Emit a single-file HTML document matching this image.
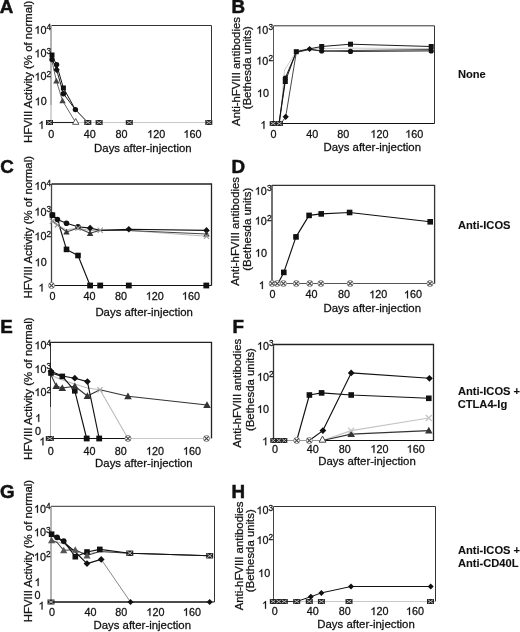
<!DOCTYPE html>
<html><head><meta charset="utf-8"><style>
html,body{margin:0;padding:0;background:#fff;overflow:hidden;}
svg{display:block;filter:grayscale(1) blur(0.5px);}
text{fill:#111;stroke:#111;stroke-width:0.26px;}
text[font-weight=bold]{stroke-width:0.1px;}
text.pl{stroke-width:0.5px;}
</style></head><body>
<svg width="520" height="632" viewBox="0 0 520 632" font-family='"Liberation Sans", sans-serif'>
<rect width="520" height="632" fill="#fff"/>
<text x="-0.2" y="12.9" font-size="18.8" text-anchor="start" font-weight="bold" class="pl">A</text>
<text x="231.6" y="13.1" font-size="18.8" text-anchor="start" font-weight="bold" class="pl">B</text>
<text x="0.3" y="172.8" font-size="18.8" text-anchor="start" font-weight="bold" class="pl">C</text>
<text x="231.6" y="172.8" font-size="18.8" text-anchor="start" font-weight="bold" class="pl">D</text>
<text x="0.3" y="332.5" font-size="18.8" text-anchor="start" font-weight="bold" class="pl">E</text>
<text x="232.5" y="332.5" font-size="18.8" text-anchor="start" font-weight="bold" class="pl">F</text>
<text x="0.1" y="497.5" font-size="18.8" text-anchor="start" font-weight="bold" class="pl">G</text>
<text x="231.6" y="497.5" font-size="18.8" text-anchor="start" font-weight="bold" class="pl">H</text>
<text x="457.9" y="78.4" font-size="11.15" text-anchor="start" font-weight="bold" >None</text>
<text x="457.9" y="228.7" font-size="11.15" text-anchor="start" font-weight="bold" >Anti-ICOS</text>
<text x="457.9" y="394.9" font-size="11.15" text-anchor="start" font-weight="bold" >Anti-ICOS +</text>
<text x="457.7" y="407.6" font-size="11.15" text-anchor="start" font-weight="bold" >CTLA4-Ig</text>
<text x="457.9" y="553.8" font-size="11.15" text-anchor="start" font-weight="bold" >Anti-ICOS +</text>
<text x="457.9" y="566.7" font-size="11.15" text-anchor="start" font-weight="bold" >Anti-CD40L</text>
<text transform="translate(31.5 71.8) rotate(-90)" font-size="11.4" text-anchor="middle" x="0" y="0">HFVIII Activity (% of normal)</text>
<text transform="translate(31.8 227.2) rotate(-90)" font-size="11.4" text-anchor="middle" x="0" y="0">HFVIII Activity (% of normal)</text>
<text transform="translate(31.5 388.7) rotate(-90)" font-size="11.4" text-anchor="middle" x="0" y="0">HFVIII Activity (% of normal)</text>
<text transform="translate(31.7 551.1) rotate(-90)" font-size="11.4" text-anchor="middle" x="0" y="0">HFVIII Activity (% of normal)</text>
<text transform="translate(240.2 71.5) rotate(-90)" font-size="11.4" text-anchor="middle" x="0" y="0">Anti-hFVIII antibodies</text>
<text transform="translate(251.3 67.8) rotate(-90)" font-size="11.4" text-anchor="middle" x="0" y="0">(Bethesda units)</text>
<text transform="translate(238.5 231.4) rotate(-90)" font-size="11.4" text-anchor="middle" x="0" y="0">Anti-hFVIII antibodies</text>
<text transform="translate(251.2 229.2) rotate(-90)" font-size="11.4" text-anchor="middle" x="0" y="0">(Bethesda units)</text>
<text transform="translate(241.1 393.2) rotate(-90)" font-size="11.4" text-anchor="middle" x="0" y="0">Anti-hFVIII antibodies</text>
<text transform="translate(253.8 389.6) rotate(-90)" font-size="11.4" text-anchor="middle" x="0" y="0">(Bethesda units)</text>
<text transform="translate(243.2 555.9) rotate(-90)" font-size="11.4" text-anchor="middle" x="0" y="0">Anti-hFVIII antibodies</text>
<text transform="translate(254.0 550.7) rotate(-90)" font-size="11.4" text-anchor="middle" x="0" y="0">(Bethesda units)</text>
<text x="94.1" y="151.9" font-size="11.4" text-anchor="start" font-weight="normal" >Days after-injection</text>
<text x="323.5" y="151.4" font-size="11.4" text-anchor="start" font-weight="normal" >Days after-injection</text>
<text x="95.4" y="315.8" font-size="11.4" text-anchor="start" font-weight="normal" >Days after-injection</text>
<text x="323.5" y="311.9" font-size="11.4" text-anchor="start" font-weight="normal" >Days after-injection</text>
<text x="95.1" y="467.2" font-size="11.4" text-anchor="start" font-weight="normal" >Days after-injection</text>
<text x="318.3" y="465.0" font-size="11.4" text-anchor="start" font-weight="normal" >Days after-injection</text>
<text x="93.5" y="629.3" font-size="11.4" text-anchor="start" font-weight="normal" >Days after-injection</text>
<text x="317.3" y="627.7" font-size="11.4" text-anchor="start" font-weight="normal" >Days after-injection</text>
<path d="M51.5 25.5H211.5V122.5" fill="none" stroke="#333" stroke-width="1"/>
<path d="M51.5 25.5V122.5" fill="none" stroke="none" stroke-width="1"/>
<path d="M51.5 122.5H211.5" fill="none" stroke="#c8c8c8" stroke-width="1"/>
<path d="M51.0 25.5 L51.0 105.0" fill="none" stroke="#666" stroke-width="1" stroke-linejoin="round"/>
<path d="M51.0 105.0 L51.0 122.5" fill="none" stroke="#aaa" stroke-width="1" stroke-linejoin="round"/>
<path d="M273.5 25.8H434.5V123.5" fill="none" stroke="#333" stroke-width="1"/>
<path d="M273.5 25.8V123.5" fill="none" stroke="#555" stroke-width="1"/>
<path d="M273.5 123.5H434.5" fill="none" stroke="#111" stroke-width="1"/>
<path d="M51.5 184.0H211.5V285.5" fill="none" stroke="#222" stroke-width="1.3"/>
<path d="M51.5 184.0V285.5" fill="none" stroke="#444" stroke-width="1.3"/>
<path d="M51.5 285.5H211.5" fill="none" stroke="#111" stroke-width="1"/>
<path d="M272 185.3H434.6V283.5" fill="none" stroke="#333" stroke-width="1.3"/>
<path d="M272 283.5H434.6" fill="none" stroke="#555" stroke-width="1"/>
<path d="M272.0 185.0 L272.0 283.5" fill="none" stroke="#444" stroke-width="1.5" stroke-linejoin="round"/>
<path d="M51 342.4H211.5V438.5" fill="none" stroke="#222" stroke-width="1.3"/>
<path d="M51 342.4V438.5" fill="none" stroke="none" stroke-width="1.3"/>
<path d="M51 438.5H211.5" fill="none" stroke="#c8c8c8" stroke-width="1"/>
<path d="M50.5 342.0 L50.5 407.0" fill="none" stroke="#333" stroke-width="1" stroke-linejoin="round"/>
<path d="M50.5 407.0 L50.5 438.5" fill="none" stroke="#aaa" stroke-width="1" stroke-linejoin="round"/>
<path d="M273.5 344.5H433.5V440.5" fill="none" stroke="#222" stroke-width="1.3"/>
<path d="M273.5 344.5V440.5" fill="none" stroke="#333" stroke-width="1.3"/>
<path d="M273.5 440.5H433.5" fill="none" stroke="none" stroke-width="1"/>
<path d="M51 506.3H214.5V602" fill="none" stroke="#333" stroke-width="1"/>
<path d="M51 506.3V602" fill="none" stroke="#666" stroke-width="1"/>
<path d="M51 602H214.5" fill="none" stroke="#111" stroke-width="1"/>
<path d="M273.5 506.5H435.5V601.5" fill="none" stroke="#333" stroke-width="1"/>
<path d="M273.5 506.5V601.5" fill="none" stroke="#444" stroke-width="1"/>
<path d="M273.5 601.5H435.5" fill="none" stroke="#c8c8c8" stroke-width="1"/>
<path d="M38.52 33.77L37.57 33.77L37.57 27.72Q37.23 28.05 36.67 28.37Q36.11 28.70 35.66 28.86L35.66 27.95Q36.46 27.57 37.06 27.04Q37.65 26.51 37.90 26.01L38.52 26.01Z" fill="#111" stroke="#111" stroke-width="0.26"/>
<text x="40.50" y="33.77" font-size="10.8">0</text>
<text x="46.6" y="30.2" font-size="8.3" text-anchor="start" font-weight="normal" >4</text>
<path d="M38.52 57.37L37.57 57.37L37.57 51.32Q37.23 51.65 36.67 51.97Q36.11 52.30 35.66 52.46L35.66 51.55Q36.46 51.17 37.06 50.64Q37.65 50.11 37.90 49.61L38.52 49.61Z" fill="#111" stroke="#111" stroke-width="0.26"/>
<text x="40.50" y="57.37" font-size="10.8">0</text>
<text x="46.6" y="53.8" font-size="8.3" text-anchor="start" font-weight="normal" >3</text>
<path d="M38.52 80.47L37.57 80.47L37.57 74.42Q37.23 74.75 36.67 75.07Q36.11 75.40 35.66 75.56L35.66 74.65Q36.46 74.27 37.06 73.74Q37.65 73.21 37.90 72.71L38.52 72.71Z" fill="#111" stroke="#111" stroke-width="0.26"/>
<text x="40.50" y="80.47" font-size="10.8">0</text>
<text x="46.6" y="76.9" font-size="8.3" text-anchor="start" font-weight="normal" >2</text>
<path d="M38.77 105.27L37.82 105.27L37.82 99.22Q37.48 99.55 36.92 99.87Q36.36 100.20 35.91 100.36L35.91 99.45Q36.71 99.07 37.31 98.54Q37.90 98.01 38.15 97.51L38.77 97.51Z" fill="#111" stroke="#111" stroke-width="0.26"/>
<text x="40.75" y="105.27" font-size="10.8">0</text>
<path d="M42.47 128.87L41.52 128.87L41.52 122.82Q41.18 123.15 40.62 123.47Q40.06 123.80 39.62 123.96L39.62 123.05Q40.41 122.67 41.01 122.14Q41.61 121.61 41.85 121.11L42.47 121.11Z" fill="#111" stroke="#111" stroke-width="0.26"/>
<path d="M38.52 189.77L37.57 189.77L37.57 183.72Q37.23 184.05 36.67 184.37Q36.11 184.70 35.66 184.86L35.66 183.95Q36.46 183.57 37.06 183.04Q37.65 182.51 37.90 182.01L38.52 182.01Z" fill="#111" stroke="#111" stroke-width="0.26"/>
<text x="40.50" y="189.77" font-size="10.8">0</text>
<text x="46.6" y="186.2" font-size="8.3" text-anchor="start" font-weight="normal" >4</text>
<path d="M38.52 215.57L37.57 215.57L37.57 209.52Q37.23 209.85 36.67 210.17Q36.11 210.50 35.66 210.66L35.66 209.75Q36.46 209.37 37.06 208.84Q37.65 208.31 37.90 207.81L38.52 207.81Z" fill="#111" stroke="#111" stroke-width="0.26"/>
<text x="40.50" y="215.57" font-size="10.8">0</text>
<text x="46.6" y="212.0" font-size="8.3" text-anchor="start" font-weight="normal" >3</text>
<path d="M38.52 240.17L37.57 240.17L37.57 234.12Q37.23 234.45 36.67 234.77Q36.11 235.10 35.66 235.26L35.66 234.35Q36.46 233.97 37.06 233.44Q37.65 232.91 37.90 232.41L38.52 232.41Z" fill="#111" stroke="#111" stroke-width="0.26"/>
<text x="40.50" y="240.17" font-size="10.8">0</text>
<text x="46.6" y="236.6" font-size="8.3" text-anchor="start" font-weight="normal" >2</text>
<path d="M38.77 266.17L37.82 266.17L37.82 260.12Q37.48 260.45 36.92 260.77Q36.36 261.10 35.91 261.26L35.91 260.35Q36.71 259.97 37.31 259.44Q37.90 258.91 38.15 258.41L38.77 258.41Z" fill="#111" stroke="#111" stroke-width="0.26"/>
<text x="40.75" y="266.17" font-size="10.8">0</text>
<path d="M42.47 291.47L41.52 291.47L41.52 285.42Q41.18 285.75 40.62 286.07Q40.06 286.40 39.62 286.56L39.62 285.65Q40.41 285.27 41.01 284.74Q41.61 284.21 41.85 283.71L42.47 283.71Z" fill="#111" stroke="#111" stroke-width="0.26"/>
<path d="M38.52 349.17L37.57 349.17L37.57 343.12Q37.23 343.45 36.67 343.77Q36.11 344.10 35.66 344.26L35.66 343.35Q36.46 342.97 37.06 342.44Q37.65 341.91 37.90 341.41L38.52 341.41Z" fill="#111" stroke="#111" stroke-width="0.26"/>
<text x="40.50" y="349.17" font-size="10.8">0</text>
<text x="46.6" y="345.6" font-size="8.3" text-anchor="start" font-weight="normal" >4</text>
<path d="M38.52 372.97L37.57 372.97L37.57 366.92Q37.23 367.25 36.67 367.57Q36.11 367.90 35.66 368.06L35.66 367.15Q36.46 366.77 37.06 366.24Q37.65 365.71 37.90 365.21L38.52 365.21Z" fill="#111" stroke="#111" stroke-width="0.26"/>
<text x="40.50" y="372.97" font-size="10.8">0</text>
<text x="46.6" y="369.4" font-size="8.3" text-anchor="start" font-weight="normal" >3</text>
<path d="M38.52 396.07L37.57 396.07L37.57 390.02Q37.23 390.35 36.67 390.67Q36.11 391.00 35.66 391.16L35.66 390.25Q36.46 389.87 37.06 389.34Q37.65 388.81 37.90 388.31L38.52 388.31Z" fill="#111" stroke="#111" stroke-width="0.26"/>
<text x="40.50" y="396.07" font-size="10.8">0</text>
<text x="46.6" y="392.5" font-size="8.3" text-anchor="start" font-weight="normal" >2</text>
<path d="M39.22 421.87L38.27 421.87L38.27 415.82Q37.93 416.15 37.37 416.47Q36.81 416.80 36.37 416.96L36.37 416.05Q37.16 415.67 37.76 415.14Q38.36 414.61 38.60 414.11L39.22 414.11Z" fill="#111" stroke="#111" stroke-width="0.26"/>
<text x="38.0" y="435.3" font-size="10.8" text-anchor="middle" font-weight="normal" >0</text>
<path d="M43.42 445.37L42.47 445.37L42.47 439.32Q42.13 439.65 41.57 439.97Q41.01 440.30 40.57 440.46L40.57 439.55Q41.36 439.17 41.96 438.64Q42.56 438.11 42.80 437.61L43.42 437.61Z" fill="#111" stroke="#111" stroke-width="0.26"/>
<path d="M37.92 512.77L36.97 512.77L36.97 506.72Q36.63 507.05 36.07 507.37Q35.51 507.70 35.06 507.86L35.06 506.95Q35.86 506.57 36.46 506.04Q37.05 505.51 37.30 505.01L37.92 505.01Z" fill="#111" stroke="#111" stroke-width="0.26"/>
<text x="39.90" y="512.77" font-size="10.8">0</text>
<text x="46.0" y="509.2" font-size="8.3" text-anchor="start" font-weight="normal" >4</text>
<path d="M37.92 536.27L36.97 536.27L36.97 530.22Q36.63 530.55 36.07 530.87Q35.51 531.20 35.06 531.36L35.06 530.45Q35.86 530.07 36.46 529.54Q37.05 529.01 37.30 528.51L37.92 528.51Z" fill="#111" stroke="#111" stroke-width="0.26"/>
<text x="39.90" y="536.27" font-size="10.8">0</text>
<text x="46.0" y="532.7" font-size="8.3" text-anchor="start" font-weight="normal" >3</text>
<path d="M37.92 560.57L36.97 560.57L36.97 554.52Q36.63 554.85 36.07 555.17Q35.51 555.50 35.06 555.66L35.06 554.75Q35.86 554.37 36.46 553.84Q37.05 553.31 37.30 552.81L37.92 552.81Z" fill="#111" stroke="#111" stroke-width="0.26"/>
<text x="39.90" y="560.57" font-size="10.8">0</text>
<text x="46.0" y="557.0" font-size="8.3" text-anchor="start" font-weight="normal" >2</text>
<path d="M38.62 586.07L37.67 586.07L37.67 580.02Q37.33 580.35 36.77 580.67Q36.21 581.00 35.77 581.16L35.77 580.25Q36.56 579.87 37.16 579.34Q37.76 578.81 38.00 578.31L38.62 578.31Z" fill="#111" stroke="#111" stroke-width="0.26"/>
<text x="37.4" y="599.4" font-size="10.8" text-anchor="middle" font-weight="normal" >0</text>
<path d="M42.52 609.47L41.57 609.47L41.57 603.42Q41.23 603.75 40.67 604.07Q40.11 604.40 39.67 604.56L39.67 603.65Q40.46 603.27 41.06 602.74Q41.66 602.21 41.90 601.71L42.52 601.71Z" fill="#111" stroke="#111" stroke-width="0.26"/>
<path d="M260.27 33.77L259.32 33.77L259.32 27.72Q258.98 28.05 258.42 28.37Q257.86 28.70 257.41 28.86L257.41 27.95Q258.21 27.57 258.81 27.04Q259.40 26.51 259.65 26.01L260.27 26.01Z" fill="#111" stroke="#111" stroke-width="0.26"/>
<text x="262.25" y="33.77" font-size="10.8">0</text>
<text x="268.4" y="30.2" font-size="8.3" text-anchor="start" font-weight="normal" >3</text>
<path d="M260.27 64.52L259.32 64.52L259.32 58.47Q258.98 58.80 258.42 59.12Q257.86 59.45 257.41 59.61L257.41 58.70Q258.21 58.32 258.81 57.79Q259.40 57.26 259.65 56.76L260.27 56.76Z" fill="#111" stroke="#111" stroke-width="0.26"/>
<text x="262.25" y="64.52" font-size="10.8">0</text>
<text x="268.4" y="60.9" font-size="8.3" text-anchor="start" font-weight="normal" >2</text>
<path d="M261.02 97.07L260.07 97.07L260.07 91.02Q259.73 91.35 259.17 91.67Q258.61 92.00 258.16 92.16L258.16 91.25Q258.96 90.87 259.56 90.34Q260.15 89.81 260.40 89.31L261.02 89.31Z" fill="#111" stroke="#111" stroke-width="0.26"/>
<text x="263.00" y="97.07" font-size="10.8">0</text>
<path d="M264.42 128.77L263.47 128.77L263.47 122.72Q263.13 123.05 262.57 123.37Q262.01 123.70 261.57 123.86L261.57 122.95Q262.36 122.57 262.96 122.04Q263.56 121.51 263.80 121.01L264.42 121.01Z" fill="#111" stroke="#111" stroke-width="0.26"/>
<path d="M258.82 194.77L257.87 194.77L257.87 188.72Q257.53 189.05 256.97 189.37Q256.41 189.70 255.96 189.86L255.96 188.95Q256.76 188.57 257.36 188.04Q257.95 187.51 258.20 187.01L258.82 187.01Z" fill="#111" stroke="#111" stroke-width="0.26"/>
<text x="260.80" y="194.77" font-size="10.8">0</text>
<text x="266.9" y="191.2" font-size="8.3" text-anchor="start" font-weight="normal" >3</text>
<path d="M258.82 224.57L257.87 224.57L257.87 218.52Q257.53 218.85 256.97 219.17Q256.41 219.50 255.96 219.66L255.96 218.75Q256.76 218.37 257.36 217.84Q257.95 217.31 258.20 216.81L258.82 216.81Z" fill="#111" stroke="#111" stroke-width="0.26"/>
<text x="260.80" y="224.57" font-size="10.8">0</text>
<text x="266.9" y="221.0" font-size="8.3" text-anchor="start" font-weight="normal" >2</text>
<path d="M259.02 256.77L258.07 256.77L258.07 250.72Q257.73 251.05 257.17 251.37Q256.61 251.70 256.16 251.86L256.16 250.95Q256.96 250.57 257.56 250.04Q258.15 249.51 258.40 249.01L259.02 249.01Z" fill="#111" stroke="#111" stroke-width="0.26"/>
<text x="261.00" y="256.77" font-size="10.8">0</text>
<path d="M262.82 289.07L261.87 289.07L261.87 283.02Q261.53 283.35 260.97 283.67Q260.41 284.00 259.97 284.16L259.97 283.25Q260.76 282.87 261.36 282.34Q261.96 281.81 262.20 281.31L262.82 281.31Z" fill="#111" stroke="#111" stroke-width="0.26"/>
<path d="M261.02 349.77L260.07 349.77L260.07 343.72Q259.73 344.05 259.17 344.37Q258.61 344.70 258.16 344.86L258.16 343.95Q258.96 343.57 259.56 343.04Q260.15 342.51 260.40 342.01L261.02 342.01Z" fill="#111" stroke="#111" stroke-width="0.26"/>
<text x="263.00" y="349.77" font-size="10.8">0</text>
<text x="269.1" y="346.2" font-size="8.3" text-anchor="start" font-weight="normal" >3</text>
<path d="M261.02 380.67L260.07 380.67L260.07 374.62Q259.73 374.95 259.17 375.27Q258.61 375.60 258.16 375.76L258.16 374.85Q258.96 374.47 259.56 373.94Q260.15 373.41 260.40 372.91L261.02 372.91Z" fill="#111" stroke="#111" stroke-width="0.26"/>
<text x="263.00" y="380.67" font-size="10.8">0</text>
<text x="269.1" y="377.1" font-size="8.3" text-anchor="start" font-weight="normal" >2</text>
<path d="M261.02 412.97L260.07 412.97L260.07 406.92Q259.73 407.25 259.17 407.57Q258.61 407.90 258.16 408.06L258.16 407.15Q258.96 406.77 259.56 406.24Q260.15 405.71 260.40 405.21L261.02 405.21Z" fill="#111" stroke="#111" stroke-width="0.26"/>
<text x="263.00" y="412.97" font-size="10.8">0</text>
<path d="M266.22 445.17L265.27 445.17L265.27 439.12Q264.93 439.45 264.37 439.77Q263.81 440.10 263.37 440.26L263.37 439.35Q264.16 438.97 264.76 438.44Q265.36 437.91 265.60 437.41L266.22 437.41Z" fill="#111" stroke="#111" stroke-width="0.26"/>
<path d="M260.52 514.17L259.57 514.17L259.57 508.12Q259.23 508.45 258.67 508.77Q258.11 509.10 257.66 509.26L257.66 508.35Q258.46 507.97 259.06 507.44Q259.65 506.91 259.90 506.41L260.52 506.41Z" fill="#111" stroke="#111" stroke-width="0.26"/>
<text x="262.50" y="514.17" font-size="10.8">0</text>
<text x="268.6" y="510.6" font-size="8.3" text-anchor="start" font-weight="normal" >3</text>
<path d="M260.52 543.97L259.57 543.97L259.57 537.92Q259.23 538.25 258.67 538.57Q258.11 538.90 257.66 539.06L257.66 538.15Q258.46 537.77 259.06 537.24Q259.65 536.71 259.90 536.21L260.52 536.21Z" fill="#111" stroke="#111" stroke-width="0.26"/>
<text x="262.50" y="543.97" font-size="10.8">0</text>
<text x="268.6" y="540.4" font-size="8.3" text-anchor="start" font-weight="normal" >2</text>
<path d="M262.22 577.07L261.27 577.07L261.27 571.02Q260.93 571.35 260.37 571.67Q259.81 572.00 259.36 572.16L259.36 571.25Q260.16 570.87 260.76 570.34Q261.35 569.81 261.60 569.31L262.22 569.31Z" fill="#111" stroke="#111" stroke-width="0.26"/>
<text x="264.20" y="577.07" font-size="10.8">0</text>
<path d="M266.02 608.77L265.07 608.77L265.07 602.72Q264.73 603.05 264.17 603.37Q263.61 603.70 263.17 603.86L263.17 602.95Q263.96 602.57 264.56 602.04Q265.16 601.51 265.40 601.01L266.02 601.01Z" fill="#111" stroke="#111" stroke-width="0.26"/>
<text x="51.3" y="137.8" font-size="10.8" text-anchor="middle" font-weight="normal" >0</text>
<text x="89.8" y="137.8" font-size="10.8" text-anchor="middle" font-weight="normal" >40</text>
<text x="121.4" y="137.8" font-size="10.8" text-anchor="middle" font-weight="normal" >80</text>
<path d="M151.21 137.84L150.26 137.84L150.26 131.79Q149.92 132.12 149.36 132.44Q148.80 132.77 148.36 132.93L148.36 132.02Q149.16 131.64 149.75 131.11Q150.35 130.58 150.60 130.08L151.21 130.08Z" fill="#111" stroke="#111" stroke-width="0.26"/>
<text x="153.20" y="137.84" font-size="10.8">2</text>
<text x="159.20" y="137.84" font-size="10.8">0</text>
<path d="M187.51 137.84L186.56 137.84L186.56 131.79Q186.22 132.12 185.66 132.44Q185.10 132.77 184.66 132.93L184.66 132.02Q185.46 131.64 186.05 131.11Q186.65 130.58 186.90 130.08L187.51 130.08Z" fill="#111" stroke="#111" stroke-width="0.26"/>
<text x="189.50" y="137.84" font-size="10.8">6</text>
<text x="195.50" y="137.84" font-size="10.8">0</text>
<text x="273.5" y="137.6" font-size="10.8" text-anchor="middle" font-weight="normal" >0</text>
<text x="312.2" y="137.6" font-size="10.8" text-anchor="middle" font-weight="normal" >40</text>
<text x="343.3" y="137.6" font-size="10.8" text-anchor="middle" font-weight="normal" >80</text>
<path d="M374.41 137.64L373.46 137.64L373.46 131.59Q373.12 131.92 372.56 132.24Q372.00 132.57 371.56 132.73L371.56 131.82Q372.36 131.44 372.95 130.91Q373.55 130.38 373.80 129.88L374.41 129.88Z" fill="#111" stroke="#111" stroke-width="0.26"/>
<text x="376.40" y="137.64" font-size="10.8">2</text>
<text x="382.40" y="137.64" font-size="10.8">0</text>
<path d="M409.31 137.64L408.36 137.64L408.36 131.59Q408.02 131.92 407.46 132.24Q406.90 132.57 406.46 132.73L406.46 131.82Q407.26 131.44 407.85 130.91Q408.45 130.38 408.70 129.88L409.31 129.88Z" fill="#111" stroke="#111" stroke-width="0.26"/>
<text x="411.30" y="137.64" font-size="10.8">6</text>
<text x="417.30" y="137.64" font-size="10.8">0</text>
<text x="52.6" y="299.6" font-size="10.8" text-anchor="middle" font-weight="normal" >0</text>
<text x="89.6" y="299.6" font-size="10.8" text-anchor="middle" font-weight="normal" >40</text>
<text x="121.1" y="299.6" font-size="10.8" text-anchor="middle" font-weight="normal" >80</text>
<path d="M149.81 299.64L148.86 299.64L148.86 293.59Q148.52 293.92 147.96 294.24Q147.40 294.57 146.96 294.73L146.96 293.82Q147.76 293.44 148.35 292.91Q148.95 292.38 149.20 291.88L149.81 291.88Z" fill="#111" stroke="#111" stroke-width="0.26"/>
<text x="151.80" y="299.64" font-size="10.8">2</text>
<text x="157.80" y="299.64" font-size="10.8">0</text>
<path d="M185.91 299.64L184.96 299.64L184.96 293.59Q184.62 293.92 184.06 294.24Q183.50 294.57 183.06 294.73L183.06 293.82Q183.86 293.44 184.45 292.91Q185.05 292.38 185.30 291.88L185.91 291.88Z" fill="#111" stroke="#111" stroke-width="0.26"/>
<text x="187.90" y="299.64" font-size="10.8">6</text>
<text x="193.90" y="299.64" font-size="10.8">0</text>
<text x="272.6" y="298.3" font-size="10.8" text-anchor="middle" font-weight="normal" >0</text>
<text x="311.5" y="298.3" font-size="10.8" text-anchor="middle" font-weight="normal" >40</text>
<text x="344.1" y="298.3" font-size="10.8" text-anchor="middle" font-weight="normal" >80</text>
<path d="M373.31 298.34L372.36 298.34L372.36 292.29Q372.02 292.62 371.46 292.94Q370.90 293.27 370.46 293.43L370.46 292.52Q371.26 292.14 371.85 291.61Q372.45 291.08 372.70 290.58L373.31 290.58Z" fill="#111" stroke="#111" stroke-width="0.26"/>
<text x="375.30" y="298.34" font-size="10.8">2</text>
<text x="381.30" y="298.34" font-size="10.8">0</text>
<path d="M408.01 298.34L407.06 298.34L407.06 292.29Q406.72 292.62 406.16 292.94Q405.60 293.27 405.16 293.43L405.16 292.52Q405.96 292.14 406.55 291.61Q407.15 291.08 407.40 290.58L408.01 290.58Z" fill="#111" stroke="#111" stroke-width="0.26"/>
<text x="410.00" y="298.34" font-size="10.8">6</text>
<text x="416.00" y="298.34" font-size="10.8">0</text>
<text x="50.8" y="454.7" font-size="10.8" text-anchor="middle" font-weight="normal" >0</text>
<text x="89.6" y="454.7" font-size="10.8" text-anchor="middle" font-weight="normal" >40</text>
<text x="120.8" y="454.7" font-size="10.8" text-anchor="middle" font-weight="normal" >80</text>
<path d="M150.01 454.74L149.06 454.74L149.06 448.69Q148.72 449.02 148.16 449.34Q147.60 449.67 147.16 449.83L147.16 448.92Q147.96 448.54 148.55 448.01Q149.15 447.48 149.40 446.98L150.01 446.98Z" fill="#111" stroke="#111" stroke-width="0.26"/>
<text x="152.00" y="454.74" font-size="10.8">2</text>
<text x="158.00" y="454.74" font-size="10.8">0</text>
<path d="M186.91 454.74L185.96 454.74L185.96 448.69Q185.62 449.02 185.06 449.34Q184.50 449.67 184.06 449.83L184.06 448.92Q184.86 448.54 185.45 448.01Q186.05 447.48 186.30 446.98L186.91 446.98Z" fill="#111" stroke="#111" stroke-width="0.26"/>
<text x="188.90" y="454.74" font-size="10.8">6</text>
<text x="194.90" y="454.74" font-size="10.8">0</text>
<text x="275.0" y="452.6" font-size="10.8" text-anchor="middle" font-weight="normal" >0</text>
<text x="312.8" y="452.6" font-size="10.8" text-anchor="middle" font-weight="normal" >40</text>
<text x="344.8" y="452.6" font-size="10.8" text-anchor="middle" font-weight="normal" >80</text>
<path d="M374.41 452.64L373.46 452.64L373.46 446.59Q373.12 446.92 372.56 447.24Q372.00 447.57 371.56 447.73L371.56 446.82Q372.36 446.44 372.95 445.91Q373.55 445.38 373.80 444.88L374.41 444.88Z" fill="#111" stroke="#111" stroke-width="0.26"/>
<text x="376.40" y="452.64" font-size="10.8">2</text>
<text x="382.40" y="452.64" font-size="10.8">0</text>
<path d="M410.71 452.64L409.76 452.64L409.76 446.59Q409.42 446.92 408.86 447.24Q408.30 447.57 407.86 447.73L407.86 446.82Q408.66 446.44 409.25 445.91Q409.85 445.38 410.10 444.88L410.71 444.88Z" fill="#111" stroke="#111" stroke-width="0.26"/>
<text x="412.70" y="452.64" font-size="10.8">6</text>
<text x="418.70" y="452.64" font-size="10.8">0</text>
<text x="52.1" y="615.8" font-size="10.8" text-anchor="middle" font-weight="normal" >0</text>
<text x="90.6" y="615.8" font-size="10.8" text-anchor="middle" font-weight="normal" >40</text>
<text x="121.2" y="615.8" font-size="10.8" text-anchor="middle" font-weight="normal" >80</text>
<path d="M150.41 615.84L149.46 615.84L149.46 609.79Q149.12 610.12 148.56 610.44Q148.00 610.77 147.56 610.93L147.56 610.02Q148.36 609.64 148.95 609.11Q149.55 608.58 149.80 608.08L150.41 608.08Z" fill="#111" stroke="#111" stroke-width="0.26"/>
<text x="152.40" y="615.84" font-size="10.8">2</text>
<text x="158.40" y="615.84" font-size="10.8">0</text>
<path d="M186.91 615.84L185.96 615.84L185.96 609.79Q185.62 610.12 185.06 610.44Q184.50 610.77 184.06 610.93L184.06 610.02Q184.86 609.64 185.45 609.11Q186.05 608.58 186.30 608.08L186.91 608.08Z" fill="#111" stroke="#111" stroke-width="0.26"/>
<text x="188.90" y="615.84" font-size="10.8">6</text>
<text x="194.90" y="615.84" font-size="10.8">0</text>
<text x="274.7" y="614.9" font-size="10.8" text-anchor="middle" font-weight="normal" >0</text>
<text x="312.8" y="614.9" font-size="10.8" text-anchor="middle" font-weight="normal" >40</text>
<text x="344.8" y="614.9" font-size="10.8" text-anchor="middle" font-weight="normal" >80</text>
<path d="M374.41 614.94L373.46 614.94L373.46 608.89Q373.12 609.22 372.56 609.54Q372.00 609.87 371.56 610.03L371.56 609.12Q372.36 608.74 372.95 608.21Q373.55 607.68 373.80 607.18L374.41 607.18Z" fill="#111" stroke="#111" stroke-width="0.26"/>
<text x="376.40" y="614.94" font-size="10.8">2</text>
<text x="382.40" y="614.94" font-size="10.8">0</text>
<path d="M410.01 614.94L409.06 614.94L409.06 608.89Q408.72 609.22 408.16 609.54Q407.60 609.87 407.16 610.03L407.16 609.12Q407.96 608.74 408.55 608.21Q409.15 607.68 409.40 607.18L410.01 607.18Z" fill="#111" stroke="#111" stroke-width="0.26"/>
<text x="412.00" y="614.94" font-size="10.8">6</text>
<text x="418.00" y="614.94" font-size="10.8">0</text>
<path d="M87.8 122.5 L208.8 122.5" fill="none" stroke="#c8c8c8" stroke-width="1" stroke-linejoin="round"/>
<path d="M49.5 122.5 L75.7 122.5" fill="none" stroke="#222" stroke-width="1.1" stroke-linejoin="round"/>
<path d="M52.0 61.0 L56.4 81.0 L62.5 100.7 L75.7 122.5" fill="none" stroke="#666" stroke-width="1" stroke-linejoin="round"/>
<path d="M52.0 56.0 L56.6 64.6 L63.4 88.0 L75.4 109.6 L87.8 122.5" fill="none" stroke="#111" stroke-width="1.0" stroke-linejoin="round"/>
<path d="M52.0 59.0 L56.6 69.7 L63.4 93.7 L75.4 109.6" fill="none" stroke="#222" stroke-width="1.0" stroke-linejoin="round"/>
<rect x="49.5" y="52.5" width="5" height="5" fill="#111"/>
<rect x="60.9" y="85.5" width="5" height="5" fill="#111"/>
<circle cx="52.0" cy="59.5" r="2.7" fill="#111"/>
<circle cx="56.6" cy="64.6" r="2.7" fill="#111"/>
<circle cx="63.4" cy="93.7" r="2.7" fill="#111"/>
<circle cx="75.4" cy="109.6" r="2.7" fill="#111"/>
<path d="M56.6 66.5L59.8 69.7L56.6 72.9L53.4 69.7Z" fill="#111"/>
<path d="M56.4 77.8L59.6 83.6L53.2 83.6Z" fill="#444"/>
<path d="M62.5 97.5L65.7 103.3L59.3 103.3Z" fill="#444"/>
<path d="M75.7 118.5L78.9 124.3L72.5 124.3Z" fill="#fff" stroke="#555" stroke-width="1"/>
<rect x="46.0" y="120.0" width="7" height="5" fill="#222"/>
<path d="M47.0 120.8L52.0 124.2M52.0 120.8L47.0 124.2" stroke="#bbb" stroke-width="1" fill="none"/>
<rect x="84.3" y="120.0" width="7" height="5" fill="#222"/>
<path d="M85.3 120.8L90.3 124.2M90.3 120.8L85.3 124.2" stroke="#bbb" stroke-width="1" fill="none"/>
<rect x="95.6" y="120.0" width="7" height="5" fill="#222"/>
<path d="M96.6 120.8L101.6 124.2M101.6 120.8L96.6 124.2" stroke="#bbb" stroke-width="1" fill="none"/>
<rect x="125.8" y="120.0" width="7" height="5" fill="#222"/>
<path d="M126.8 120.8L131.8 124.2M131.8 120.8L126.8 124.2" stroke="#bbb" stroke-width="1" fill="none"/>
<rect x="205.3" y="120.0" width="7" height="5" fill="#222"/>
<path d="M206.3 120.8L211.3 124.2M211.3 120.8L206.3 124.2" stroke="#bbb" stroke-width="1" fill="none"/>
<path d="M280.0 123.5 L284.5 70.0 L297.0 50.5 L310.0 49.0 L322.0 48.7 L350.5 48.2 L431.2 48.5" fill="none" stroke="#ccc" stroke-width="1" stroke-linejoin="round"/>
<path d="M279.0 123.5 L285.3 81.5 L296.3 51.7 L309.6 48.8 L321.7 46.5 L350.5 44.2 L431.2 46.5" fill="none" stroke="#111" stroke-width="0.95" stroke-linejoin="round"/>
<path d="M279.0 123.5 L285.3 78.0 L296.3 52.0 L309.6 49.2 L321.7 50.9 L350.5 51.4 L431.2 50.9" fill="none" stroke="#111" stroke-width="0.95" stroke-linejoin="round"/>
<path d="M281.0 123.5 L285.7 116.8 L296.3 52.5 L309.6 49.4 L321.7 51.2 L350.5 50.5 L431.2 49.5" fill="none" stroke="#333" stroke-width="0.9" stroke-linejoin="round"/>
<rect x="282.8" y="79.0" width="5" height="5" fill="#111"/>
<rect x="293.8" y="49.2" width="5" height="5" fill="#111"/>
<rect x="319.2" y="44.0" width="5" height="5" fill="#111"/>
<rect x="348.0" y="41.7" width="5" height="5" fill="#111"/>
<rect x="428.7" y="44.0" width="5" height="5" fill="#111"/>
<circle cx="285.3" cy="78.0" r="2.6" fill="#111"/>
<circle cx="321.7" cy="50.9" r="2.6" fill="#111"/>
<circle cx="350.5" cy="51.4" r="2.6" fill="#111"/>
<circle cx="431.2" cy="50.9" r="2.6" fill="#111"/>
<path d="M285.7 113.7L288.8 116.8L285.7 119.9L282.6 116.8Z" fill="#111"/>
<path d="M309.6 45.9L312.7 49.0L309.6 52.1L306.5 49.0Z" fill="#111"/>
<rect x="269.7" y="121.0" width="7" height="5" fill="#222"/>
<path d="M270.7 121.8L275.7 125.2M275.7 121.8L270.7 125.2" stroke="#bbb" stroke-width="1" fill="none"/>
<rect x="275.9" y="121.0" width="7" height="5" fill="#222"/>
<path d="M276.9 121.8L281.9 125.2M281.9 121.8L276.9 125.2" stroke="#bbb" stroke-width="1" fill="none"/>
<path d="M52.4 221.2 L57.4 224.9 L66.5 229.9 L78.0 228.1 L90.1 230.6 L100.2 230.3 L128.8 230.5 L206.5 236.2" fill="none" stroke="#bbb" stroke-width="1.1" stroke-linejoin="round"/>
<path d="M52.4 221.0 L57.4 225.0 L66.5 231.9 L78.0 228.1 L90.1 233.3 L100.2 230.3 L128.8 230.5 L206.5 234.0" fill="none" stroke="#444" stroke-width="1.1" stroke-linejoin="round"/>
<path d="M52.4 215.0 L57.4 219.5 L66.5 223.2 L78.0 226.8 L90.1 228.1 L100.2 230.3 L128.8 229.2 L206.5 230.4" fill="none" stroke="#111" stroke-width="1.15" stroke-linejoin="round"/>
<path d="M52.4 215.1 L57.4 219.5 L66.5 249.4 L78.0 255.5 L90.1 285.5" fill="none" stroke="#111" stroke-width="1.15" stroke-linejoin="round"/>
<rect x="49.6" y="212.3" width="5.6" height="5.6" fill="#111"/>
<rect x="63.7" y="246.6" width="5.6" height="5.6" fill="#111"/>
<rect x="75.2" y="252.7" width="5.6" height="5.6" fill="#111"/>
<rect x="87.2" y="282.6" width="5.8" height="5.8" fill="#111"/>
<rect x="97.3" y="282.6" width="5.8" height="5.8" fill="#111"/>
<rect x="125.9" y="282.6" width="5.8" height="5.8" fill="#111"/>
<rect x="203.4" y="282.6" width="5.8" height="5.8" fill="#111"/>
<circle cx="52.4" cy="215.1" r="2.8" fill="#111"/>
<circle cx="57.4" cy="219.5" r="2.8" fill="#111"/>
<circle cx="66.5" cy="223.2" r="2.8" fill="#111"/>
<circle cx="78.0" cy="226.8" r="2.8" fill="#111"/>
<path d="M90.1 224.8L93.4 228.1L90.1 231.4L86.8 228.1Z" fill="#111"/>
<path d="M128.8 225.9L132.1 229.2L128.8 232.5L125.5 229.2Z" fill="#111"/>
<path d="M206.5 227.1L209.8 230.4L206.5 233.7L203.2 230.4Z" fill="#111"/>
<path d="M66.5 228.7L69.7 234.5L63.3 234.5Z" fill="#333"/>
<path d="M90.1 230.1L93.3 235.9L86.9 235.9Z" fill="#333"/>
<path d="M206.5 230.8L209.7 236.6L203.3 236.6Z" fill="#333"/>
<path d="M49.8 218.6L55.0 223.8M55.0 218.6L49.8 223.8" stroke="#999" stroke-width="1.1" fill="none"/>
<path d="M54.8 222.3L60.0 227.5M60.0 222.3L54.8 227.5" stroke="#999" stroke-width="1.1" fill="none"/>
<path d="M75.4 225.5L80.6 230.7M80.6 225.5L75.4 230.7" stroke="#999" stroke-width="1.1" fill="none"/>
<path d="M97.6 227.7L102.8 232.9M102.8 227.7L97.6 232.9" stroke="#999" stroke-width="1.1" fill="none"/>
<path d="M203.9 233.6L209.1 238.8M209.1 233.6L203.9 238.8" stroke="#999" stroke-width="1.1" fill="none"/>
<circle cx="51.5" cy="285.5" r="3" fill="#fff" stroke="#777" stroke-width="0.9"/>
<path d="M49.3 283.3L53.7 287.7M53.7 283.3L49.3 287.7" stroke="#444" stroke-width="1.1" fill="none"/>
<path d="M272.5 283.5 L278.0 283.5 L283.8 272.4 L296.0 236.9 L309.1 215.4 L321.2 213.9 L349.6 212.5 L430.2 221.8" fill="none" stroke="#111" stroke-width="1.15" stroke-linejoin="round"/>
<rect x="281.0" y="269.6" width="5.6" height="5.6" fill="#111"/>
<rect x="293.2" y="234.1" width="5.6" height="5.6" fill="#111"/>
<rect x="306.3" y="212.6" width="5.6" height="5.6" fill="#111"/>
<rect x="318.4" y="211.1" width="5.6" height="5.6" fill="#111"/>
<rect x="346.8" y="209.7" width="5.6" height="5.6" fill="#111"/>
<rect x="427.4" y="219.0" width="5.6" height="5.6" fill="#111"/>
<circle cx="272.1" cy="283.5" r="3" fill="#fff" stroke="#777" stroke-width="0.9"/>
<path d="M269.9 281.3L274.3 285.7M274.3 281.3L269.9 285.7" stroke="#444" stroke-width="1.1" fill="none"/>
<circle cx="277.3" cy="283.5" r="3" fill="#fff" stroke="#777" stroke-width="0.9"/>
<path d="M275.1 281.3L279.5 285.7M279.5 281.3L275.1 285.7" stroke="#444" stroke-width="1.1" fill="none"/>
<circle cx="283.4" cy="283.5" r="3" fill="#fff" stroke="#777" stroke-width="0.9"/>
<path d="M281.2 281.3L285.6 285.7M285.6 281.3L281.2 285.7" stroke="#444" stroke-width="1.1" fill="none"/>
<circle cx="296.3" cy="283.5" r="3" fill="#fff" stroke="#777" stroke-width="0.9"/>
<path d="M294.1 281.3L298.5 285.7M298.5 281.3L294.1 285.7" stroke="#444" stroke-width="1.1" fill="none"/>
<circle cx="309.8" cy="283.5" r="3" fill="#fff" stroke="#777" stroke-width="0.9"/>
<path d="M307.6 281.3L312.0 285.7M312.0 281.3L307.6 285.7" stroke="#444" stroke-width="1.1" fill="none"/>
<circle cx="320.9" cy="283.5" r="3" fill="#fff" stroke="#777" stroke-width="0.9"/>
<path d="M318.7 281.3L323.1 285.7M323.1 281.3L318.7 285.7" stroke="#444" stroke-width="1.1" fill="none"/>
<circle cx="350.2" cy="283.5" r="3" fill="#fff" stroke="#777" stroke-width="0.9"/>
<path d="M348.0 281.3L352.4 285.7M352.4 281.3L348.0 285.7" stroke="#444" stroke-width="1.1" fill="none"/>
<circle cx="430.0" cy="283.5" r="3" fill="#fff" stroke="#777" stroke-width="0.9"/>
<path d="M427.8 281.3L432.2 285.7M432.2 281.3L427.8 285.7" stroke="#444" stroke-width="1.1" fill="none"/>
<path d="M128.0 438.5 L206.5 438.5" fill="none" stroke="#c8c8c8" stroke-width="1" stroke-linejoin="round"/>
<path d="M50.7 438.5 L128.0 438.5" fill="none" stroke="#111" stroke-width="1.15" stroke-linejoin="round"/>
<path d="M51.0 375.6 L62.3 380.0 L74.8 384.0 L87.4 388.0 L100.0 389.8 L128.0 438.5" fill="none" stroke="#bbb" stroke-width="1.1" stroke-linejoin="round"/>
<path d="M51.0 375.0 L56.2 386.0 L62.3 388.0 L74.8 386.3 L87.4 396.0 L100.0 389.8 L128.0 396.3 L207.0 405.0" fill="none" stroke="#333" stroke-width="1.1" stroke-linejoin="round"/>
<path d="M51.0 373.0 L62.3 376.4 L74.8 390.8 L86.7 438.5" fill="none" stroke="#111" stroke-width="1.15" stroke-linejoin="round"/>
<path d="M51.0 371.2 L62.3 376.0 L74.8 378.2 L87.4 381.6 L99.2 438.5" fill="none" stroke="#111" stroke-width="1.15" stroke-linejoin="round"/>
<rect x="48.2" y="370.2" width="5.6" height="5.6" fill="#111"/>
<rect x="59.5" y="373.6" width="5.6" height="5.6" fill="#111"/>
<rect x="72.0" y="388.0" width="5.6" height="5.6" fill="#111"/>
<rect x="83.8" y="435.6" width="5.8" height="5.8" fill="#111"/>
<rect x="96.3" y="435.6" width="5.8" height="5.8" fill="#111"/>
<path d="M51.0 367.8L54.4 371.2L51.0 374.6L47.6 371.2Z" fill="#111"/>
<path d="M74.8 374.8L78.2 378.2L74.8 381.6L71.4 378.2Z" fill="#111"/>
<path d="M87.4 378.2L90.8 381.6L87.4 385.0L84.0 381.6Z" fill="#111"/>
<path d="M56.2 382.2L60.0 389.0L52.4 389.0Z" fill="#333"/>
<path d="M62.3 384.2L66.1 391.0L58.5 391.0Z" fill="#333"/>
<path d="M74.8 382.5L78.6 389.3L71.0 389.3Z" fill="#333"/>
<path d="M87.4 392.2L91.2 399.0L83.6 399.0Z" fill="#333"/>
<path d="M128.0 392.5L131.8 399.3L124.2 399.3Z" fill="#333"/>
<path d="M207.0 401.2L210.8 408.0L203.2 408.0Z" fill="#333"/>
<path d="M97.4 387.2L102.6 392.4M102.6 387.2L97.4 392.4" stroke="#aaa" stroke-width="1.1" fill="none"/>
<rect x="45.8" y="436.0" width="8" height="5" fill="#222"/>
<path d="M46.8 436.8L52.8 440.2M52.8 436.8L46.8 440.2" stroke="#bbb" stroke-width="1" fill="none"/>
<circle cx="128.0" cy="438.5" r="3" fill="#fff" stroke="#777" stroke-width="0.9"/>
<path d="M125.8 436.3L130.2 440.7M130.2 436.3L125.8 440.7" stroke="#444" stroke-width="1.1" fill="none"/>
<circle cx="206.5" cy="438.5" r="3" fill="#fff" stroke="#777" stroke-width="0.9"/>
<path d="M204.3 436.3L208.7 440.7M208.7 436.3L204.3 440.7" stroke="#444" stroke-width="1.1" fill="none"/>
<path d="M273.5 440.5 L322.5 440.5" fill="none" stroke="#999" stroke-width="1" stroke-linejoin="round"/>
<path d="M322.5 440.5 L434.0 440.5" fill="none" stroke="#111" stroke-width="1.0" stroke-linejoin="round"/>
<path d="M322.5 440.5 L351.2 430.6 L428.8 418.0" fill="none" stroke="#c4c4c4" stroke-width="1.2" stroke-linejoin="round"/>
<path d="M322.5 440.5 L351.2 434.1 L428.8 430.6" fill="none" stroke="#333" stroke-width="1.2" stroke-linejoin="round"/>
<path d="M296.7 440.5 L309.4 395.0 L321.6 392.9 L351.2 395.0 L428.8 398.3" fill="none" stroke="#111" stroke-width="1.15" stroke-linejoin="round"/>
<path d="M309.3 440.5 L322.9 430.6 L351.2 372.9 L429.4 378.3" fill="none" stroke="#111" stroke-width="1.15" stroke-linejoin="round"/>
<rect x="306.6" y="392.2" width="5.6" height="5.6" fill="#111"/>
<rect x="318.8" y="390.1" width="5.6" height="5.6" fill="#111"/>
<rect x="348.4" y="392.2" width="5.6" height="5.6" fill="#111"/>
<rect x="426.0" y="395.5" width="5.6" height="5.6" fill="#111"/>
<path d="M322.9 427.2L326.3 430.6L322.9 434.0L319.5 430.6Z" fill="#111"/>
<path d="M351.2 369.5L354.6 372.9L351.2 376.3L347.8 372.9Z" fill="#111"/>
<path d="M429.4 374.9L432.8 378.3L429.4 381.7L426.0 378.3Z" fill="#111"/>
<path d="M351.2 430.3L355.0 437.1L347.4 437.1Z" fill="#333"/>
<path d="M428.8 426.8L432.6 433.6L425.0 433.6Z" fill="#333"/>
<path d="M348.2 427.6L354.2 433.6M354.2 427.6L348.2 433.6" stroke="#c4c4c4" stroke-width="1.3" fill="none"/>
<path d="M425.8 415.0L431.8 421.0M431.8 415.0L425.8 421.0" stroke="#c4c4c4" stroke-width="1.3" fill="none"/>
<rect x="270.3" y="438.0" width="6" height="5" fill="#222"/>
<path d="M271.3 438.8L275.3 442.2M275.3 438.8L271.3 442.2" stroke="#bbb" stroke-width="1" fill="none"/>
<rect x="275.8" y="438.0" width="6" height="5" fill="#222"/>
<path d="M276.8 438.8L280.8 442.2M280.8 438.8L276.8 442.2" stroke="#bbb" stroke-width="1" fill="none"/>
<rect x="281.3" y="438.0" width="6" height="5" fill="#222"/>
<path d="M282.3 438.8L286.3 442.2M286.3 438.8L282.3 442.2" stroke="#bbb" stroke-width="1" fill="none"/>
<circle cx="296.7" cy="440.5" r="3" fill="#fff" stroke="#777" stroke-width="0.9"/>
<path d="M294.5 438.3L298.9 442.7M298.9 438.3L294.5 442.7" stroke="#444" stroke-width="1.1" fill="none"/>
<circle cx="309.3" cy="440.5" r="3" fill="#fff" stroke="#777" stroke-width="0.9"/>
<path d="M307.1 438.3L311.5 442.7M311.5 438.3L307.1 442.7" stroke="#444" stroke-width="1.1" fill="none"/>
<path d="M322.5 436.1L325.9 442.2L319.1 442.2Z" fill="#fff" stroke="#444" stroke-width="1"/>
<path d="M50.8 602.0 L209.7 602.0" fill="none" stroke="#111" stroke-width="1.0" stroke-linejoin="round"/>
<path d="M51.6 540.0 L63.7 544.0 L75.3 551.0 L87.0 554.0 L99.8 551.5 L129.8 553.2 L209.7 555.7" fill="none" stroke="#bbb" stroke-width="1.1" stroke-linejoin="round"/>
<path d="M51.6 540.4 L57.1 542.5 L63.7 550.3 L75.3 549.8 L87.0 555.5 L99.8 551.5 L129.8 553.2 L209.7 555.7" fill="none" stroke="#444" stroke-width="1.1" stroke-linejoin="round"/>
<path d="M51.6 534.2 L57.1 537.3 L63.7 541.1 L75.3 556.7 L87.0 552.0 L99.8 549.4 L129.8 553.2 L209.7 555.7" fill="none" stroke="#111" stroke-width="1.15" stroke-linejoin="round"/>
<path d="M51.6 536.0 L57.1 538.0 L63.7 542.0 L75.3 552.0 L87.0 563.6 L101.2 559.4" fill="none" stroke="#111" stroke-width="1.1" stroke-linejoin="round"/>
<path d="M101.2 559.4 L130.5 602.0" fill="none" stroke="#888" stroke-width="1" stroke-linejoin="round"/>
<rect x="48.8" y="531.4" width="5.6" height="5.6" fill="#111"/>
<rect x="72.5" y="553.9" width="5.6" height="5.6" fill="#111"/>
<rect x="84.2" y="549.2" width="5.6" height="5.6" fill="#111"/>
<rect x="97.0" y="546.6" width="5.6" height="5.6" fill="#111"/>
<rect x="126.3" y="550.5" width="7" height="5.5" fill="#222"/>
<path d="M127.3 551.2L132.3 555.2M132.3 551.2L127.3 555.2" stroke="#bbb" stroke-width="1" fill="none"/>
<rect x="206.2" y="553.0" width="7" height="5.5" fill="#222"/>
<path d="M207.2 553.8L212.2 557.7M212.2 553.8L207.2 557.7" stroke="#bbb" stroke-width="1" fill="none"/>
<circle cx="57.1" cy="537.3" r="2.9" fill="#111"/>
<circle cx="63.7" cy="541.1" r="2.9" fill="#111"/>
<path d="M87.0 560.2L90.4 563.6L87.0 567.0L83.6 563.6Z" fill="#111"/>
<path d="M101.2 556.0L104.6 559.4L101.2 562.8L97.8 559.4Z" fill="#111"/>
<path d="M130.5 599.0L133.5 602.0L130.5 605.0L127.5 602.0Z" fill="#111"/>
<path d="M209.7 599.0L212.7 602.0L209.7 605.0L206.7 602.0Z" fill="#111"/>
<path d="M51.6 536.8L55.2 543.3L48.0 543.3Z" fill="#555"/>
<path d="M63.7 546.7L67.3 553.2L60.1 553.2Z" fill="#555"/>
<path d="M75.3 546.2L78.9 552.7L71.7 552.7Z" fill="#555"/>
<path d="M87.0 551.9L90.6 558.4L83.4 558.4Z" fill="#555"/>
<rect x="47.5" y="599.5" width="7" height="5" fill="#222"/>
<path d="M48.5 600.3L53.5 603.7M53.5 600.3L48.5 603.7" stroke="#bbb" stroke-width="1" fill="none"/>
<path d="M296.7 601.5 L430.5 601.5" fill="none" stroke="#c8c8c8" stroke-width="1" stroke-linejoin="round"/>
<path d="M273.5 601.5 L296.7 601.5" fill="none" stroke="#333" stroke-width="1.0" stroke-linejoin="round"/>
<path d="M296.7 601.5 L310.8 596.7 L321.4 592.9 L351.0 586.5 L430.7 586.5" fill="none" stroke="#111" stroke-width="1.0" stroke-linejoin="round"/>
<path d="M310.8 593.7L313.8 596.7L310.8 599.7L307.8 596.7Z" fill="#111"/>
<path d="M321.4 589.9L324.4 592.9L321.4 595.9L318.4 592.9Z" fill="#111"/>
<path d="M351.0 583.5L354.0 586.5L351.0 589.5L348.0 586.5Z" fill="#111"/>
<path d="M430.7 583.5L433.7 586.5L430.7 589.5L427.7 586.5Z" fill="#111"/>
<rect x="269.8" y="599.0" width="7" height="5" fill="#222"/>
<path d="M270.8 599.8L275.8 603.2M275.8 599.8L270.8 603.2" stroke="#bbb" stroke-width="1" fill="none"/>
<rect x="275.3" y="599.0" width="7" height="5" fill="#222"/>
<path d="M276.3 599.8L281.3 603.2M281.3 599.8L276.3 603.2" stroke="#bbb" stroke-width="1" fill="none"/>
<rect x="280.8" y="599.0" width="7" height="5" fill="#222"/>
<path d="M281.8 599.8L286.8 603.2M286.8 599.8L281.8 603.2" stroke="#bbb" stroke-width="1" fill="none"/>
<rect x="293.2" y="599.0" width="7" height="5" fill="#222"/>
<path d="M294.2 599.8L299.2 603.2M299.2 599.8L294.2 603.2" stroke="#bbb" stroke-width="1" fill="none"/>
<rect x="305.8" y="599.0" width="7" height="5" fill="#222"/>
<path d="M306.8 599.8L311.8 603.2M311.8 599.8L306.8 603.2" stroke="#bbb" stroke-width="1" fill="none"/>
<rect x="317.9" y="599.0" width="7" height="5" fill="#222"/>
<path d="M318.9 599.8L323.9 603.2M323.9 599.8L318.9 603.2" stroke="#bbb" stroke-width="1" fill="none"/>
<rect x="345.5" y="599.0" width="7" height="5" fill="#222"/>
<path d="M346.5 599.8L351.5 603.2M351.5 599.8L346.5 603.2" stroke="#bbb" stroke-width="1" fill="none"/>
<rect x="427.0" y="599.0" width="7" height="5" fill="#222"/>
<path d="M428.0 599.8L433.0 603.2M433.0 599.8L428.0 603.2" stroke="#bbb" stroke-width="1" fill="none"/>
</svg></body></html>
